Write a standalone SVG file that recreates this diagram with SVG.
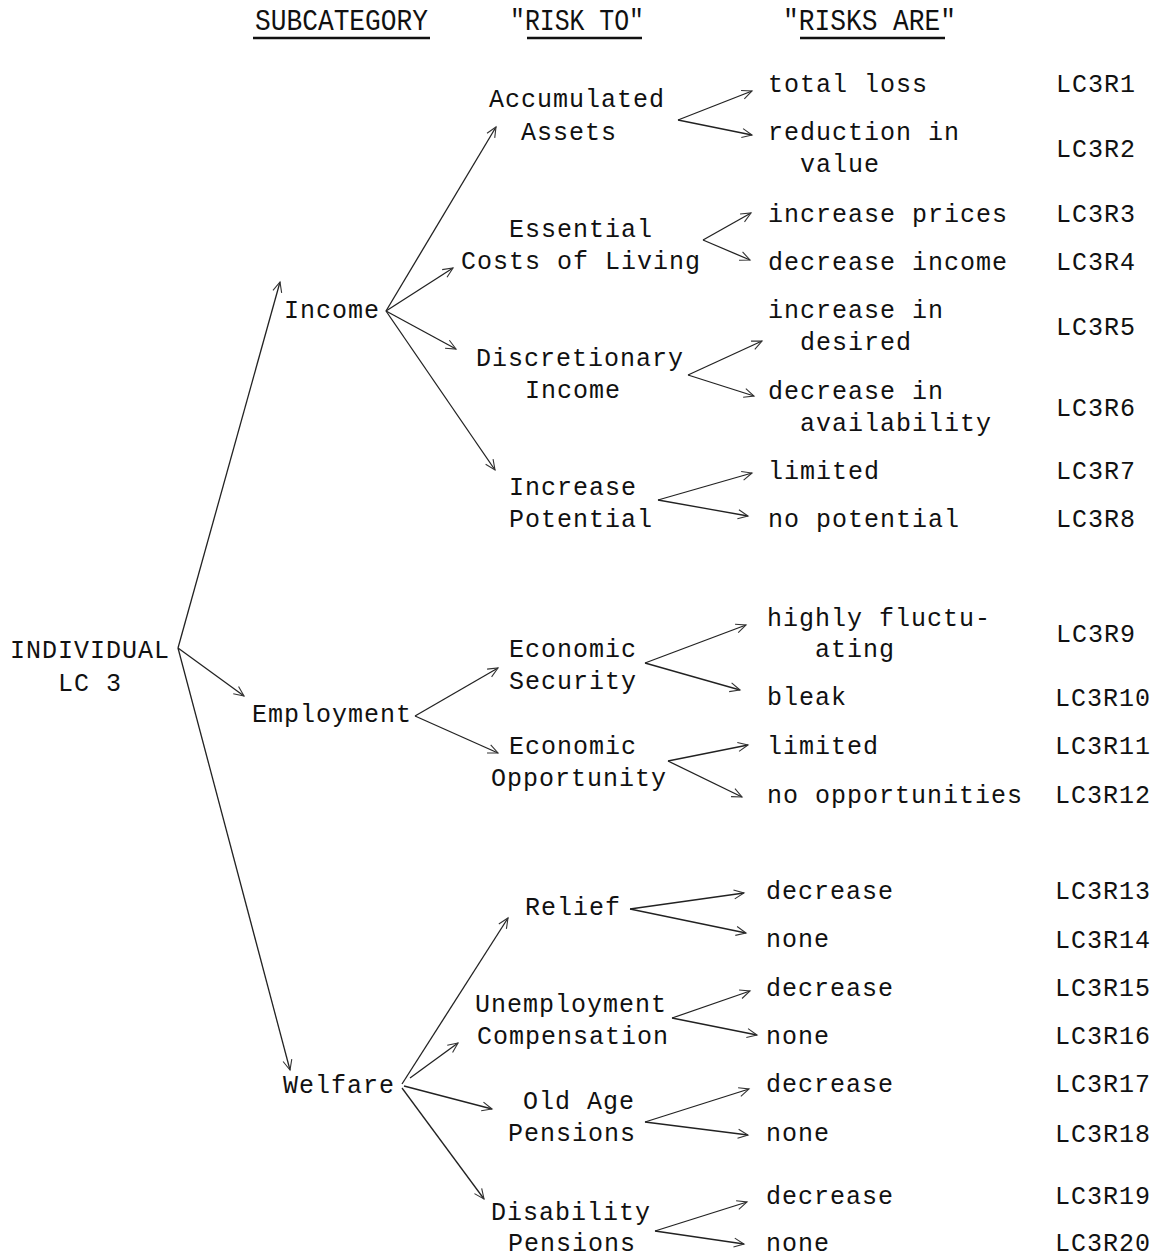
<svg xmlns="http://www.w3.org/2000/svg" width="1161" height="1259" viewBox="0 0 1161 1259">
  <style>
    .t { font-family: "Liberation Mono", "DejaVu Sans Mono", monospace; font-size: 25px; letter-spacing: 1px; fill: #111; }
    .h { font-family: "Liberation Mono", "DejaVu Sans Mono", monospace; font-size: 30px; fill: #111; }
    .u { stroke: #111; stroke-width: 2.6; }
    .c line { stroke: #222; stroke-width: 1.3; fill: none; marker-end: url(#ah); }
  </style>
  <defs>
    <marker id="ah" markerWidth="14" markerHeight="12" refX="12" refY="6" orient="auto" markerUnits="userSpaceOnUse">
      <path d="M2,1.5 L12,6 L2,10.5" fill="none" stroke="#333" stroke-width="1.1"/>
    </marker>
  </defs>
  <rect width="1161" height="1259" fill="#fff"/>

  <!-- column headings -->
  <g id="headings">
    <text class="h" x="255" y="30" textLength="173" lengthAdjust="spacingAndGlyphs">SUBCATEGORY</text>
    <line class="u" x1="253" y1="38" x2="430" y2="38"/>
    <text class="h" x="510" y="30" textLength="134" lengthAdjust="spacingAndGlyphs">"RISK TO"</text>
    <line class="u" x1="527" y1="38" x2="642" y2="38"/>
    <text class="h" x="783" y="30" textLength="173" lengthAdjust="spacingAndGlyphs">"RISKS ARE"</text>
    <line class="u" x1="800" y1="38" x2="945" y2="38"/>
  </g>

  <!-- root -->
  <g id="individual">
    <text class="t" x="10" y="658">INDIVIDUAL</text>
    <text class="t" x="58" y="691">LC 3</text>
  </g>

  <!-- subcategories -->
  <g id="income"><text class="t" x="284" y="318">Income</text></g>
  <g id="employment"><text class="t" x="252" y="722">Employment</text></g>
  <g id="welfare"><text class="t" x="283" y="1093">Welfare</text></g>

  <!-- risk to -->
  <g id="accumulated-assets">
    <text class="t" x="489" y="107">Accumulated</text>
    <text class="t" x="521" y="140">Assets</text>
  </g>
  <g id="essential-costs">
    <text class="t" x="509" y="237">Essential</text>
    <text class="t" x="461" y="269">Costs of Living</text>
  </g>
  <g id="discretionary-income">
    <text class="t" x="476" y="366">Discretionary</text>
    <text class="t" x="525" y="398">Income</text>
  </g>
  <g id="increase-potential">
    <text class="t" x="509" y="495">Increase</text>
    <text class="t" x="509" y="527">Potential</text>
  </g>
  <g id="economic-security">
    <text class="t" x="509" y="657">Economic</text>
    <text class="t" x="509" y="689">Security</text>
  </g>
  <g id="economic-opportunity">
    <text class="t" x="509" y="754">Economic</text>
    <text class="t" x="491" y="786">Opportunity</text>
  </g>
  <g id="relief"><text class="t" x="525" y="915">Relief</text></g>
  <g id="unemployment-compensation">
    <text class="t" x="475" y="1012">Unemployment</text>
    <text class="t" x="477" y="1044">Compensation</text>
  </g>
  <g id="old-age-pensions">
    <text class="t" x="523" y="1109">Old Age</text>
    <text class="t" x="508" y="1141">Pensions</text>
  </g>
  <g id="disability-pensions">
    <text class="t" x="491" y="1220">Disability</text>
    <text class="t" x="508" y="1251">Pensions</text>
  </g>

  <!-- risks are, with codes -->
  <g id="r1"><text class="t" x="768" y="92">total loss</text><text class="t" x="1056" y="92">LC3R1</text></g>
  <g id="r2"><text class="t" x="768" y="140">reduction in</text><text class="t" x="800" y="172">value</text><text class="t" x="1056" y="157">LC3R2</text></g>
  <g id="r3"><text class="t" x="768" y="222">increase prices</text><text class="t" x="1056" y="222">LC3R3</text></g>
  <g id="r4"><text class="t" x="768" y="270">decrease income</text><text class="t" x="1056" y="270">LC3R4</text></g>
  <g id="r5"><text class="t" x="768" y="318">increase in</text><text class="t" x="800" y="350">desired</text><text class="t" x="1056" y="335">LC3R5</text></g>
  <g id="r6"><text class="t" x="768" y="399">decrease in</text><text class="t" x="800" y="431">availability</text><text class="t" x="1056" y="416">LC3R6</text></g>
  <g id="r7"><text class="t" x="768" y="479">limited</text><text class="t" x="1056" y="479">LC3R7</text></g>
  <g id="r8"><text class="t" x="768" y="527">no potential</text><text class="t" x="1056" y="527">LC3R8</text></g>
  <g id="r9"><text class="t" x="767" y="626">highly fluctu-</text><text class="t" x="815" y="657">ating</text><text class="t" x="1056" y="642">LC3R9</text></g>
  <g id="r10"><text class="t" x="767" y="705">bleak</text><text class="t" x="1055" y="706">LC3R10</text></g>
  <g id="r11"><text class="t" x="767" y="754">limited</text><text class="t" x="1055" y="754">LC3R11</text></g>
  <g id="r12"><text class="t" x="767" y="803">no opportunities</text><text class="t" x="1055" y="803">LC3R12</text></g>
  <g id="r13"><text class="t" x="766" y="899">decrease</text><text class="t" x="1055" y="899">LC3R13</text></g>
  <g id="r14"><text class="t" x="766" y="947">none</text><text class="t" x="1055" y="948">LC3R14</text></g>
  <g id="r15"><text class="t" x="766" y="996">decrease</text><text class="t" x="1055" y="996">LC3R15</text></g>
  <g id="r16"><text class="t" x="766" y="1044">none</text><text class="t" x="1055" y="1044">LC3R16</text></g>
  <g id="r17"><text class="t" x="766" y="1092">decrease</text><text class="t" x="1055" y="1092">LC3R17</text></g>
  <g id="r18"><text class="t" x="766" y="1141">none</text><text class="t" x="1055" y="1142">LC3R18</text></g>
  <g id="r19"><text class="t" x="766" y="1204">decrease</text><text class="t" x="1055" y="1204">LC3R19</text></g>
  <g id="r20"><text class="t" x="766" y="1251">none</text><text class="t" x="1055" y="1251">LC3R20</text></g>

  <!-- connectors -->
  <g id="connectors" class="c">
    <line x1="178" y1="648" x2="280" y2="282"/>
    <line x1="178" y1="648" x2="244" y2="696"/>
    <line x1="178" y1="648" x2="290" y2="1070"/>

    <line x1="386" y1="311" x2="496" y2="127"/>
    <line x1="386" y1="311" x2="453" y2="268"/>
    <line x1="386" y1="311" x2="456" y2="349"/>
    <line x1="386" y1="311" x2="495" y2="470"/>

    <line x1="678" y1="120" x2="752" y2="91"/>
    <line x1="678" y1="120" x2="752" y2="135"/>
    <line x1="703" y1="240" x2="751" y2="213"/>
    <line x1="703" y1="240" x2="750" y2="260"/>
    <line x1="688" y1="375" x2="762" y2="341"/>
    <line x1="688" y1="375" x2="754" y2="396"/>
    <line x1="658" y1="500" x2="752" y2="473"/>
    <line x1="658" y1="500" x2="748" y2="516"/>

    <line x1="415" y1="716" x2="498" y2="668"/>
    <line x1="415" y1="716" x2="498" y2="753"/>
    <line x1="645" y1="663" x2="746" y2="625"/>
    <line x1="645" y1="663" x2="740" y2="690"/>
    <line x1="668" y1="761" x2="748" y2="745"/>
    <line x1="668" y1="761" x2="742" y2="797"/>

    <line x1="402" y1="1084" x2="508" y2="918"/>
    <line x1="410" y1="1078" x2="458" y2="1043"/>
    <line x1="404" y1="1086" x2="492" y2="1109"/>
    <line x1="402" y1="1088" x2="484" y2="1199"/>
    <line x1="630" y1="909" x2="744" y2="893"/>
    <line x1="630" y1="909" x2="746" y2="933"/>
    <line x1="672" y1="1018" x2="750" y2="991"/>
    <line x1="672" y1="1018" x2="757" y2="1035"/>
    <line x1="645" y1="1122" x2="749" y2="1089"/>
    <line x1="645" y1="1122" x2="748" y2="1135"/>
    <line x1="655" y1="1231" x2="747" y2="1202"/>
    <line x1="655" y1="1231" x2="744" y2="1244"/>
  </g>
</svg>
